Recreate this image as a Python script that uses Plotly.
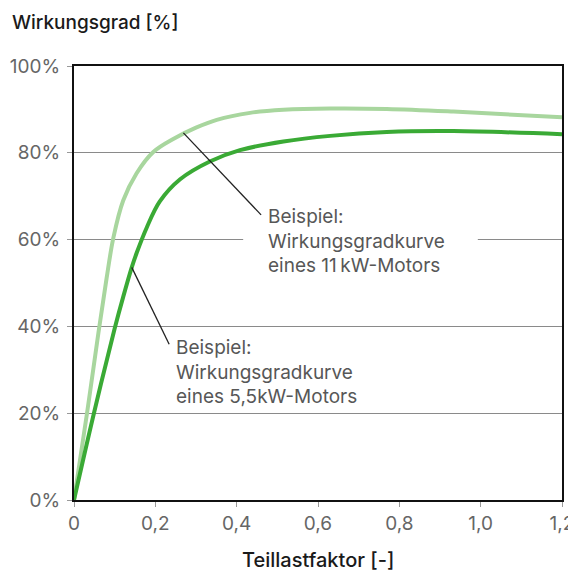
import plotly.graph_objects as go

# 11 kW motor (light green)
x_11kw = [0, 0.032, 0.06, 0.08, 0.097, 0.121, 0.154, 0.195, 0.244, 0.3, 0.351, 0.433, 0.515, 0.63, 0.769, 0.933, 1.2]
y_11kw = [0, 20, 38.5, 51, 60.5, 69, 75.3, 80.2, 83.2, 85.8, 87.6, 89.2, 89.9, 90.2, 90.1, 89.5, 88.2]

# 5,5 kW motor (dark green)
x_55kw = [0, 0.049, 0.1, 0.121, 0.142, 0.154, 0.179, 0.211, 0.261, 0.334, 0.408, 0.515, 0.63, 0.769, 0.933, 1.2]
y_55kw = [0, 20, 39.5, 46.8, 53.6, 56.9, 62.8, 68.8, 73.9, 78.0, 80.6, 82.6, 83.9, 84.8, 85.0, 84.3]

x_ticks = [0, 0.2, 0.4, 0.6, 0.8, 1.0, 1.2]
x_ticklabels = ["0", "0,2", "0,4", "0,6", "0,8", "1,0", "1,2"]
y_ticks = [0, 20, 40, 60, 80, 100]
y_ticklabels = ["0%", "20%", "40%", "60%", "80%", "100%"]

FONT = "Inter"

fig = go.Figure()
fig.add_trace(go.Scatter(x=x_11kw, y=y_11kw, mode="lines",
                         line=dict(color="#a8d69e", width=4, shape="spline", smoothing=1.0),
                         hoverinfo="skip", showlegend=False))
fig.add_trace(go.Scatter(x=x_55kw, y=y_55kw, mode="lines",
                         line=dict(color="#3aaa35", width=4, shape="spline", smoothing=1.0),
                         hoverinfo="skip", showlegend=False))

# white background behind 11 kW label (interrupts gridline)
fig.add_shape(type="rect", xref="x", yref="y", x0=0.416, x1=0.993, y0=51.5, y1=69,
              fillcolor="white", line=dict(width=0), layer="between")

# leader lines
fig.add_shape(type="line", xref="x", yref="y", x0=0.269, y0=84.6, x1=0.46, y1=65.7,
              line=dict(color="#222222", width=1.3), layer="above")
fig.add_shape(type="line", xref="x", yref="y", x0=0.142, y0=53.6, x1=0.234, y1=35.9,
              line=dict(color="#222222", width=1.3), layer="above")

fig.add_annotation(x=0.472, y=59.7, xref="x", yref="y", xanchor="left", yanchor="middle",
                   align="left", showarrow=False,
                   text="Beispiel:<br>Wirkungsgradkurve<br>eines 11\u2009kW-Motors",
                   font=dict(family=FONT, size=19, color="#575757"))
fig.add_annotation(x=0.246, y=29.6, xref="x", yref="y", xanchor="left", yanchor="middle",
                   align="left", showarrow=False,
                   text="Beispiel:<br>Wirkungsgradkurve<br>eines 5,5kW-Motors",
                   font=dict(family=FONT, size=19, color="#575757"))

# axis titles
fig.add_annotation(x=0.0, y=1.0, xref="paper", yref="paper", xanchor="left", yanchor="middle",
                   xshift=-64, yshift=44, showarrow=False, text="Wirkungsgrad [%]",
                   font=dict(family=FONT, size=19, color="#1a1a1a", weight=500))
fig.add_annotation(x=0.5, y=0.0, xref="paper", yref="paper", xanchor="center", yanchor="middle",
                   yshift=-60, showarrow=False, text="Teillastfaktor [-]",
                   font=dict(family=FONT, size=20, color="#1a1a1a", weight=500))

fig.update_xaxes(range=[0, 1.2], tickvals=x_ticks, ticktext=x_ticklabels, automargin=False,
                 showgrid=False, zeroline=False, showline=True, mirror=True,
                 linecolor="#111111", linewidth=2, ticks="outside", ticklen=5,
                 tickcolor="#999999", tickwidth=1,
                 tickfont=dict(family=FONT, size=19, color="#666666"))
fig.update_yaxes(range=[0, 100], tickvals=y_ticks, ticktext=y_ticklabels, automargin=False,
                 showgrid=True, gridcolor="#8a8a8a", gridwidth=1, zeroline=False,
                 showline=True, mirror=True, linecolor="#111111", linewidth=2,
                 ticks="outside", ticklen=5, tickcolor="#999999", tickwidth=1,
                 ticklabelstandoff=3,
                 tickfont=dict(family=FONT, size=19, color="#666666"))

fig.update_layout(width=568, height=566, margin=dict(l=66, r=14, t=58, b=74, autoexpand=False),
                  paper_bgcolor="white", plot_bgcolor="white", showlegend=False)

fig.write_html("out.html")
